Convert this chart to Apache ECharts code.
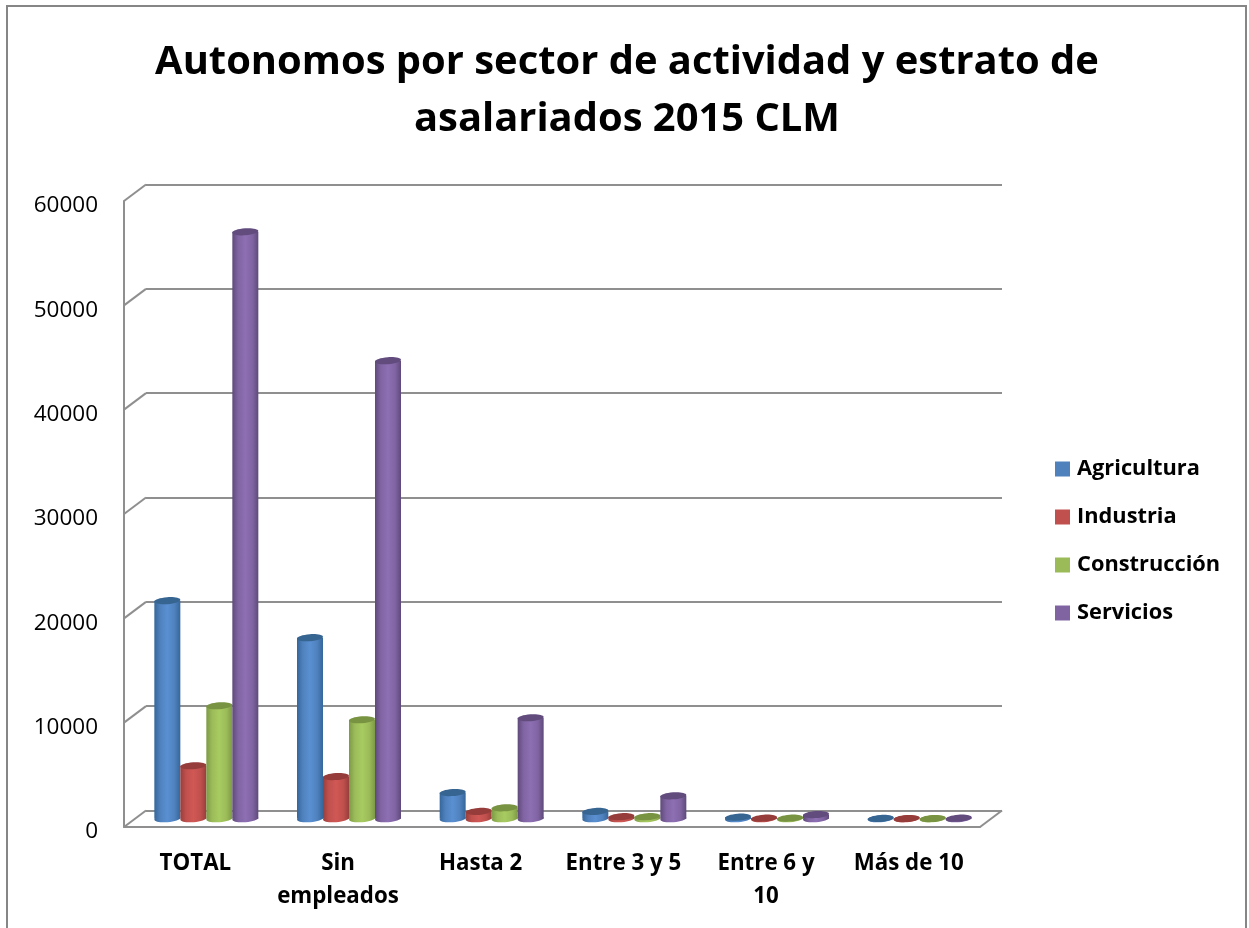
<!DOCTYPE html>
<html>
<head>
<meta charset="utf-8">
<title>Autonomos por sector</title>
<script src="https://cdn.jsdelivr.net/npm/echarts@6/dist/echarts.min.js"></script>
<style>
  html, body { margin: 0; padding: 0; background: #fff; }
  #chart { width: 1249px; height: 928px; }
</style>
</head>
<body>
<div id="chart"></div>
<script>
// datos
const categorias = ['TOTAL', 'Sin\nempleados', 'Hasta 2', 'Entre 3 y 5', 'Entre 6 y\n10', 'Más de 10'];
const agricultura = [20900, 17350, 2510, 700, 150, 30];
const industria = [5080, 4040, 700, 200, 60, 20];
const construccion = [10830, 9490, 1050, 200, 60, 20];
const servicios = [56260, 43900, 9680, 2200, 400, 50];
const ticks = [0, 10000, 20000, 30000, 40000, 50000, 60000];
const nombres = ['Agricultura', 'Industria', 'Construcción', 'Servicios'];

// colores: base, borde oscuro, centro claro, tapa
const colores = [
  ['#4f81bd', '#35669b', '#5a90d2', '#376592'],
  ['#c0504d', '#973e3c', '#d05855', '#963d3b'],
  ['#9bbb59', '#7d9a45', '#a8cb61', '#789342'],
  ['#8064a2', '#5f4a7a', '#8d6fb3', '#624c7e']
];

const FUENTE = 'Open Sans';
const GRIS = '#8f8f8f';
const DX = 22, DY = 16.5;   // profundidad del 3D
const ANCHO = 26, RY = 3.5;

// cilindro dibujado a mitad de profundidad
function cilindro(j) {
  return function (params, api) {
    const tope = api.coord([api.value(0), api.value(1)]);
    const base = api.coord([api.value(0), 0]);
    const cx = tope[0] + DX / 2 + (j - 1.5) * ANCHO;
    const y1 = tope[1] - DY / 2;
    const y0 = base[1] - DY / 2;
    const c = colores[j];
    const grad = new echarts.graphic.LinearGradient(0, 0, 1, 0, [
      { offset: 0, color: c[1] },
      { offset: 0.22, color: c[0] },
      { offset: 0.5, color: c[2] },
      { offset: 0.78, color: c[0] },
      { offset: 1, color: c[1] }
    ]);
    return {
      type: 'group',
      children: [
        { type: 'ellipse', shape: { cx: cx, cy: y0, rx: ANCHO / 2, ry: RY }, rotation: 0.07, originX: cx, originY: y0, style: { fill: grad } },
        { type: 'rect', shape: { x: cx - ANCHO / 2, y: y1, width: ANCHO, height: y0 - y1 }, style: { fill: grad } },
        { type: 'ellipse', shape: { cx: cx, cy: y1, rx: ANCHO / 2, ry: RY }, rotation: 0.07, originX: cx, originY: y1, style: { fill: c[3] } }
      ]
    };
  };
}

// diagonales entre la pared lateral y el fondo
function diagonal(params, api) {
  const v = api.value(0);
  const p = api.coord([0, v]);
  const lineas = [{
    type: 'line',
    shape: { x1: params.coordSys.x, y1: p[1], x2: params.coordSys.x + DX, y2: p[1] - DY },
    style: { stroke: GRIS, lineWidth: 2 }
  }];
  if (v === 0) {
    const xd = params.coordSys.x + params.coordSys.width;
    lineas.push({
      type: 'line',
      shape: { x1: xd, y1: p[1], x2: xd + DX, y2: p[1] - DY },
      style: { stroke: GRIS, lineWidth: 2 }
    });
  }
  return { type: 'group', children: lineas };
}

function serie(j, valores) {
  return {
    name: nombres[j],
    type: 'custom',
    xAxisIndex: 0,
    yAxisIndex: 0,
    clip: false,
    itemStyle: { color: colores[j][0] },
    renderItem: cilindro(j),
    encode: { x: 0, y: 1 },
    data: valores.map(function (v, i) { return [i, v]; })
  };
}

const myChart = echarts.init(document.getElementById('chart'));
myChart.setOption({
  animation: false,
  backgroundColor: '#fff',
  title: {
    text: 'Autonomos por sector de actividad y estrato de\nasalariados 2015 CLM',
    left: 622,
    top: 29,
    textAlign: 'center',
    textStyle: { fontFamily: FUENTE, fontSize: 39.9, fontWeight: 'bold', color: '#000', lineHeight: 57 }
  },
  legend: {
    orient: 'vertical',
    left: 1050,
    top: 452,
    icon: 'rect',
    itemWidth: 15,
    itemHeight: 15,
    itemGap: 24,
    data: nombres,
    selectedMode: false,
    textStyle: { fontFamily: FUENTE, fontSize: 21.8, fontWeight: 'bold', color: '#000', lineHeight: 24, padding: [0, 0, 0, 2] }
  },
  grid: [
    { left: 124, top: 201, width: 856, height: 626 },
    { left: 124 + DX, top: 201 - DY, width: 856, height: 626 }
  ],
  xAxis: [
    {
      type: 'category',
      gridIndex: 0,
      data: categorias,
      axisTick: { show: false },
      axisLine: { lineStyle: { color: GRIS, width: 2 } },
      axisLabel: { fontFamily: FUENTE, fontSize: 22.3, fontWeight: 'bold', color: '#000', margin: 20, lineHeight: 33, interval: 0 }
    },
    { type: 'category', gridIndex: 1, data: categorias, show: false }
  ],
  yAxis: [
    {
      type: 'value',
      gridIndex: 0,
      min: 0,
      max: 60000,
      interval: 10000,
      splitLine: { show: false },
      axisTick: { show: false },
      axisLine: { show: true, lineStyle: { color: GRIS, width: 2 } },
      axisLabel: {
        fontFamily: FUENTE,
        fontSize: 22.5,
        color: '#000',
        margin: 26,
        verticalAlign: 'top',
        lineHeight: 10,
        formatter: function (v) { return String(v); }
      }
    },
    {
      type: 'value',
      gridIndex: 1,
      min: 0,
      max: 60000,
      interval: 10000,
      axisLine: { show: false },
      axisTick: { show: false },
      axisLabel: { show: false },
      splitLine: { show: true, lineStyle: { color: GRIS, width: 2 } }
    }
  ],
  graphic: [{
    type: 'polyline',
    shape: { points: [[7, 928], [7, 6], [1246, 6], [1246, 928]] },
    style: { fill: 'none', stroke: '#868686', lineWidth: 2 }
  }],
  series: [
    {
      type: 'custom',
      xAxisIndex: 0,
      yAxisIndex: 0,
      clip: false,
      silent: true,
      renderItem: diagonal,
      encode: { y: 0 },
      data: ticks.map(function (v) { return [v]; })
    },
    serie(0, agricultura),
    serie(1, industria),
    serie(2, construccion),
    serie(3, servicios)
  ]
});
</script>
</body>
</html>
